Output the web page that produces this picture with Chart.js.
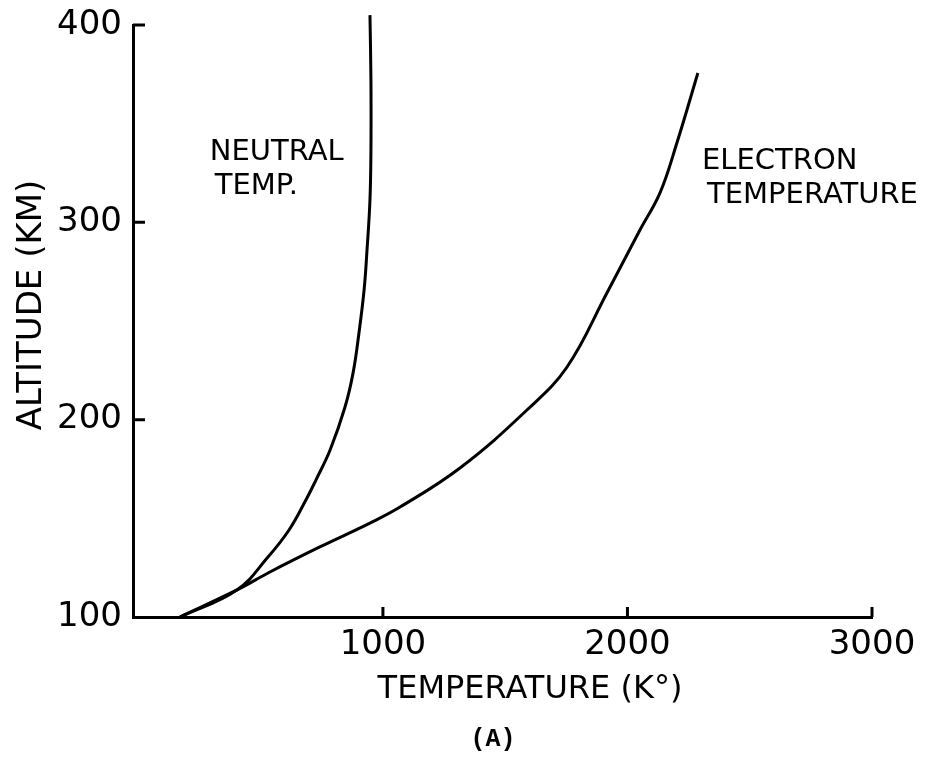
<!DOCTYPE html>
<html><head><meta charset="utf-8">
<script src="https://cdn.jsdelivr.net/npm/chart.js@4/dist/chart.umd.min.js"></script>
<style>html,body{margin:0;padding:0;background:#fff}#wrap{width:934px;height:757px}</style>
</head><body><div id="wrap"><canvas id="c" width="934" height="757"></canvas></div>
<script>
// Neutral temperature profile (K vs km)
const neutralTemp = [170, 403, 530, 616, 685, 726, 784, 845, 878, 902, 923, 935, 947, 951, 951, 947];
const neutralAlt  = [100, 113.7, 130.4, 144.1, 159.3, 169.4, 184.6, 206.4, 223.7, 243.9, 265.7, 286.0, 311.3, 336.7, 372.1, 405];
// Electron temperature profile (K vs km)
const electronTemp = [170, 403, 538, 742, 947, 1070, 1315, 1589, 1753, 1916, 2051, 2133, 2202, 2288];
const electronAlt  = [100, 113.7, 122.8, 135.5, 147.6, 155.7, 175.5, 204.9, 226.7, 264.2, 296.1, 314.9, 340.2, 375.7];
// Axis ticks
const xTicks = [1000, 2000, 3000];
const xTickLabels = ['1000', '2000', '3000'];
const yTicks = [100, 200, 300, 400];
const yTickLabels = ['100', '200', '300', '400'];
const xTitle = 'TEMPERATURE (K\u00B0)';
const yTitle = 'ALTITUDE (KM)';
const caption = '(A)';
const curveLabels = [
  {lines: ['NEUTRAL', 'TEMP.'], t: 292, alt: 331.6},
  {lines: ['ELECTRON', 'TEMPERATURE'], t: 2305, alt: 327}
];

const toPts = (xs, ys) => xs.map((x, i) => ({x: x, y: ys[i]}));
const FONT = '"DejaVu Sans", sans-serif';

const decor = {
  id: 'decor',
  afterDraw(chart) {
    const ctx = chart.ctx, xs = chart.scales.x, ys = chart.scales.y, a = chart.chartArea;
    ctx.save();
    ctx.strokeStyle = '#000';
    ctx.lineWidth = 3;
    ctx.beginPath();
    yTicks.slice(1).forEach(v => { const p = ys.getPixelForValue(v); ctx.moveTo(a.left, p); ctx.lineTo(a.left + 12, p); });
    xTicks.forEach(v => { const p = xs.getPixelForValue(v); ctx.moveTo(p, a.bottom); ctx.lineTo(p, a.bottom - 10); });
    ctx.stroke();
    ctx.fillStyle = '#000';
    ctx.textBaseline = 'alphabetic';
    ctx.font = '29px ' + FONT;
    ctx.textAlign = 'left';
    curveLabels.forEach(l => {
      const x = xs.getPixelForValue(l.t), y = ys.getPixelForValue(l.alt);
      l.lines.forEach((s, i) => ctx.fillText(s, x + (i ? 5 : 0), y + i * 34));
    });
    ctx.font = '32px ' + FONT;
    ctx.textAlign = 'center';
    ctx.fillText(xTitle, 530, 698);
    ctx.save();
    ctx.translate(41, 305);
    ctx.rotate(-Math.PI / 2);
    ctx.font = '34px ' + FONT;
    ctx.fillText(yTitle, 0, 0);
    ctx.restore();
    ctx.font = 'bold 25px "Liberation Mono", monospace';
    ctx.fillText(caption, 493, 746);
    ctx.restore();
  }
};

new Chart(document.getElementById('c'), {
  type: 'line',
  data: {
    datasets: [
      {label: 'Neutral temp.', data: toPts(neutralTemp, neutralAlt), borderColor: '#000', borderWidth: 3, pointRadius: 0, tension: 0.4, fill: false, clip: false},
      {label: 'Electron temperature', data: toPts(electronTemp, electronAlt), borderColor: '#000', borderWidth: 3, pointRadius: 0, tension: 0.4, fill: false, clip: false}
    ]
  },
  options: {
    responsive: false,
    animation: false,
    devicePixelRatio: 1,
    layout: {padding: {left: 0, top: 25, right: 62, bottom: 0}},
    plugins: {legend: {display: false}, tooltip: {enabled: false}},
    scales: {
      x: {
        type: 'linear', min: -22, max: 3000,
        afterBuildTicks: s => { s.ticks = xTicks.map(v => ({value: v})); },
        afterFit: s => { s.height = 140; s.paddingLeft = 0; s.paddingRight = 0; },
        grid: {display: false, drawTicks: false},
        border: {display: true, color: '#000', width: 3},
        ticks: {color: '#000', font: {family: FONT, size: 34}, padding: 8, maxRotation: 0, autoSkip: false,
          callback: v => xTickLabels[xTicks.indexOf(v)]}
      },
      y: {
        type: 'linear', min: 100, max: 400,
        afterBuildTicks: s => { s.ticks = yTicks.map(v => ({value: v})); },
        afterFit: s => { s.width = 133; s.paddingTop = 0; s.paddingBottom = 0; },
        grid: {display: false, drawTicks: false},
        border: {display: true, color: '#000', width: 3},
        ticks: {color: '#000', font: {family: FONT, size: 34}, padding: 11,
          callback: v => yTickLabels[yTicks.indexOf(v)]}
      }
    }
  },
  plugins: [decor]
});
</script></body></html>
